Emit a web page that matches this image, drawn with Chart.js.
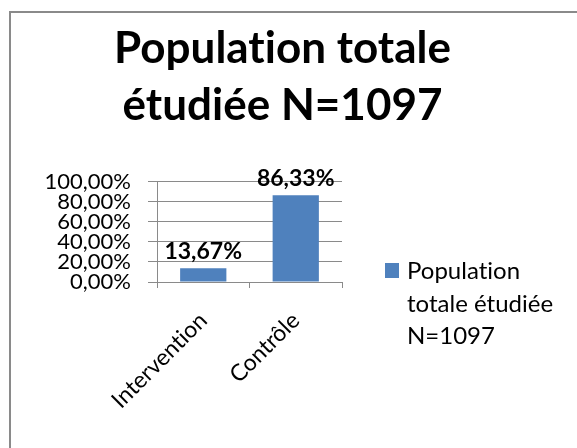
<!DOCTYPE html>
<html>
<head>
<meta charset="utf-8">
<script src="https://cdn.jsdelivr.net/npm/chart.js@4/dist/chart.umd.min.js"></script>
<style>
  html, body { margin: 0; padding: 0; background: #fff; }
  #wrap { position: relative; width: 577px; height: 448px; overflow: hidden; }
  #frame { position: absolute; left: 9px; top: 11px; width: 620px; height: 500px;
           border: 2px solid #8a8a8a; box-sizing: border-box; }
  #chart { position: absolute; left: 0; top: 0; }
</style>
</head>
<body>
<div id="wrap">
  <div id="frame"></div>
  <canvas id="chart" width="577" height="448"></canvas>
</div>
<script>
// data
const categories   = ['Intervention', 'Contrôle'];
const seriesLabel  = 'Population totale étudiée N=1097';
const seriesValues = [13.67, 86.33];
const yTicks       = [0, 20, 40, 60, 80, 100];
const titleLines   = ['Population totale', 'étudiée N=1097'];

const FONT     = 'Lato, Carlito, Calibri, sans-serif';
const barColor = '#4F81BD';
const gridCol  = '#8a8a8a';

function pct(v) {
    return v.toFixed(2).replace('.', ',') + '%';
}

// Lato joins "ti" into a ligature, a tiny letter spacing switches that off
const noLigatures = {
    id: 'noLigatures',
    beforeDraw(chart) {
        if ('letterSpacing' in chart.ctx) chart.ctx.letterSpacing = '0.01px';
    }
};

// ── right-hand legend, laid out as a box so the plot keeps its place ──
const sideLegend = {
    id: 'sideLegend',
    beforeInit(chart) {
        const box = {
            position: 'right',
            weight: 100,
            fullSize: false,
            options: {},
            isHorizontal() { return false; },
            update(maxW, maxH) { this.width = 223; this.height = maxH; },
            draw() {
                const ctx = chart.ctx;
                const ds  = chart.data.datasets[0];
                ctx.save();
                ctx.font = '24px ' + FONT;
                ctx.fillStyle = ds.backgroundColor;
                ctx.fillRect(385, 263, 14, 15);

                // wrap the label like Excel does
                const words = ds.label.split(' ');
                const lines = [];
                let cur = '';
                words.forEach(w => {
                    const t = cur ? cur + ' ' + w : w;
                    if (cur && ctx.measureText(t).width > 160) { lines.push(cur); cur = w; }
                    else cur = t;
                });
                if (cur) lines.push(cur);

                ctx.fillStyle = '#000';
                ctx.textBaseline = 'alphabetic';
                lines.forEach((l, i) => ctx.fillText(l, 407, 279 + i * 32.5));
                ctx.restore();
            }
        };
        Chart.layouts.addBox(chart, box);
    }
};

// ── value labels above the bars ──
const barLabels = {
    id: 'barLabels',
    afterDatasetsDraw(chart) {
        const ctx  = chart.ctx;
        const meta = chart.getDatasetMeta(0);
        ctx.save();
        ctx.font = 'bold 23px ' + FONT;
        ctx.fillStyle = '#000';
        ctx.textAlign = 'center';
        ctx.textBaseline = 'alphabetic';
        meta.data.forEach((bar, i) => {
            ctx.fillText(pct(seriesValues[i]), bar.x, bar.y - 9);
        });
        ctx.restore();
    }
};

new Chart(document.getElementById('chart'), {
    type: 'bar',
    data: {
        labels: categories,
        datasets: [{
            label: seriesLabel,
            data: seriesValues,
            backgroundColor: barColor,
            borderWidth: 0,
            barPercentage: 0.5,
            categoryPercentage: 1,
        }]
    },
    options: {
        responsive: false,
        animation: false,
        layout: { padding: { left: 0, right: 12, top: 0, bottom: 0 } },
        plugins: {
            legend: { display: false },
            tooltip: { enabled: false },
            title: {
                display: true,
                text: titleLines,
                color: '#000',
                font: { family: FONT, size: 44, weight: 'bold', lineHeight: 1.28 },
                padding: { top: 21, bottom: 48 },
            },
        },
        scales: {
            x: {
                afterFit(s) { s.height = 166; },
                grid: { drawOnChartArea: false, drawTicks: true, tickLength: 6, color: gridCol },
                border: { color: gridCol },
                ticks: {
                    color: '#000',
                    font: { family: FONT, size: 23 },
                    minRotation: 45,
                    maxRotation: 45,
                    padding: 19,
                },
            },
            y: {
                min: yTicks[0],
                max: yTicks[yTicks.length - 1],
                afterFit(s) { s.width = 157; },
                afterBuildTicks(s) { s.ticks = yTicks.map(v => ({ value: v })); },
                grid: { color: gridCol, tickLength: 9 },
                border: { color: gridCol },
                ticks: {
                    autoSkip: false,
                    color: '#000',
                    font: { family: FONT, size: 22, lineHeight: 1 },
                    padding: 17,
                    callback: v => pct(v),
                },
            }
        }
    },
    plugins: [noLigatures, sideLegend, barLabels]
});
</script>
</body>
</html>
